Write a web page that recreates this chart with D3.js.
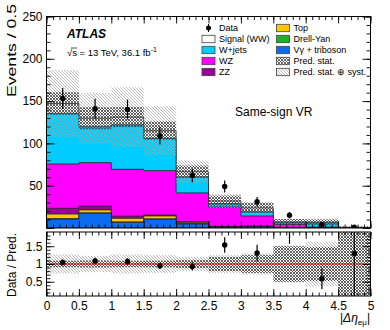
<!DOCTYPE html>
<html><head><meta charset="utf-8">
<script src="https://cdn.jsdelivr.net/npm/d3@7"></script>
<style>
body{margin:0;background:#fff;}
svg{display:block;font-family:"Liberation Sans",Arial,Helvetica,sans-serif;}
</style></head>
<body><svg id="c" width="390" height="330"></svg>
<script>
// ---- data ----
const binEdges = [0,0.5,1,1.5,2,2.5,3,3.5,4,4.5,5];
const vgammaTri = [10.3,17.4,6.7,10.3,4.7,1.0,1.5,0.3,0.2,0.0];
const drellYan  = [0.8,0.5,0.5,0.5,0.8,0.3,0.2,0.0,0.0,0.0];
const topQ      = [5.4,3.4,4.2,3.4,1.2,0.3,0.2,0.0,0.0,0.0];
const zz        = [6.8,4.7,2.6,1.2,0.8,0.3,0.3,0.2,0.0,0.0];
const wz        = [52.3,51.2,55.4,52.4,34,23,12,3.8,1.0,0.2];
const wjets     = [60,42.5,52.6,38.2,19,4,5,2,4.8,0.5];
const signalWW  = [11.5,10,9,9,6,3,4.5,0.8,0.8,0.07];
const dataVals  = [153,141,140,109,62,49,31,15,4,1];
const statRel   = [0.09,0.10,0.09,0.095,0.11,0.2,0.25,0.5,0.48,1.5];
const totRel    = [0.27,0.23,0.27,0.25,0.2,0.26,0.3,0.52,0.63,1.5];
const mainYTicks = [0,50,100,150,200,250];
const ratioYTicks = [0.5,1,1.5];
const xTicks = [0,0.5,1,1.5,2,2.5,3,3.5,4,4.5,5];

const comps = [
  {name:"Vγ + triboson", vals:vgammaTri, color:"#0a6cf0"},
  {name:"Drell-Yan", vals:drellYan, color:"#1db31d"},
  {name:"Top", vals:topQ, color:"#fdc800"},
  {name:"ZZ", vals:zz, color:"#990099"},
  {name:"WZ", vals:wz, color:"#ff00ff"},
  {name:"W+jets", vals:wjets, color:"#00ccff"},
  {name:"Signal (WW)", vals:signalWW, color:"#ffffff"}
];

const svg = d3.select("#c");
const L=46.5, R=370.5, T=16.5, B=228, RT=232, RB=296;
const x = d3.scaleLinear().domain([0,5]).range([L,R]);
const y = d3.scaleLinear().domain([0,250]).range([B,T]);
const yr = d3.scaleLinear().domain([0.1,1.9]).range([RB,RT]);

const defs = svg.append("defs");
const ps = defs.append("pattern").attr("id","stat").attr("patternUnits","userSpaceOnUse").attr("width",3).attr("height",3);
ps.append("path").attr("d","M0,0L3,3M3,0L0,3M-1,2L1,4M2,-1L4,1").attr("stroke","#3a3a3a").attr("stroke-width",0.75);
const py = defs.append("pattern").attr("id","syst").attr("patternUnits","userSpaceOnUse").attr("width",3).attr("height",3);
py.append("path").attr("d","M0,0L3,3M-1,2L1,4M2,-1L4,1").attr("stroke","#a8a8a8").attr("stroke-width",0.8);
defs.append("clipPath").attr("id","cm").append("rect").attr("x",L).attr("y",T).attr("width",R-L).attr("height",B-T);
defs.append("clipPath").attr("id","cr").append("rect").attr("x",L).attr("y",RT).attr("width",R-L).attr("height",RB-RT);

const nb = dataVals.length;
// cumulative sums
const cum = [];
let acc = new Array(nb).fill(0);
comps.forEach(c=>{acc = acc.map((a,i)=>a+c.vals[i]); cum.push(acc.slice());});
const total = cum[cum.length-1];

const gm = svg.append("g").attr("clip-path","url(#cm)");
function stepPath(vals){
  let p = `M${x(0)},${y(0)}`;
  for(let i=0;i<nb;i++){p+=`L${x(binEdges[i])},${y(vals[i])}L${x(binEdges[i+1])},${y(vals[i])}`;}
  p+=`L${x(5)},${y(0)}Z`;
  return p;
}
for(let k=comps.length-1;k>=0;k--){
  gm.append("path").attr("d",stepPath(cum[k])).attr("fill",comps[k].color).attr("stroke","#222").attr("stroke-width",0.8);
}
// uncertainty bands
for(let i=0;i<nb;i++){
  const t=total[i], x0=x(binEdges[i]), w=x(binEdges[i+1])-x0;
  gm.append("rect").attr("x",x0).attr("width",w).attr("y",y(t*(1+totRel[i]))).attr("height",y(t*(1-totRel[i]))-y(t*(1+totRel[i]))).attr("fill","url(#syst)");
}
for(let i=0;i<nb;i++){
  const t=total[i], x0=x(binEdges[i]), w=x(binEdges[i+1])-x0;
  gm.append("rect").attr("x",x0).attr("width",w).attr("y",y(t*(1+statRel[i]))).attr("height",y(t*(1-statRel[i]))-y(t*(1+statRel[i]))).attr("fill","url(#stat)");
}
// data
for(let i=0;i<nb;i++){
  const cx=x((binEdges[i]+binEdges[i+1])/2), v=dataVals[i], e=Math.sqrt(v);
  gm.append("line").attr("x1",cx).attr("x2",cx).attr("y1",y(v-e)).attr("y2",y(v+e)).attr("stroke","#000").attr("stroke-width",1.2);
  gm.append("circle").attr("cx",cx).attr("cy",y(v)).attr("r",2.7).attr("fill","#000");
}

// ratio panel
const gr = svg.append("g").attr("clip-path","url(#cr)");
for(let i=0;i<nb;i++){
  const x0=x(binEdges[i]), w=x(binEdges[i+1])-x0;
  gr.append("rect").attr("x",x0).attr("width",w).attr("y",yr(1+totRel[i])).attr("height",yr(1-totRel[i])-yr(1+totRel[i])).attr("fill","url(#syst)");
}
for(let i=0;i<nb;i++){
  const x0=x(binEdges[i]), w=x(binEdges[i+1])-x0;
  gr.append("rect").attr("x",x0).attr("width",w).attr("y",yr(1+statRel[i])).attr("height",yr(1-statRel[i])-yr(1+statRel[i])).attr("fill","url(#stat)");
}
gr.append("line").attr("x1",L).attr("x2",R).attr("y1",yr(1)).attr("y2",yr(1)).attr("stroke","#ff0000").attr("stroke-width",1);
for(let i=0;i<nb;i++){
  const cx=x((binEdges[i]+binEdges[i+1])/2), r=dataVals[i]/total[i], e=Math.sqrt(dataVals[i])/total[i];
  gr.append("line").attr("x1",cx).attr("x2",cx).attr("y1",yr(r-e)).attr("y2",yr(r+e)).attr("stroke","#000").attr("stroke-width",1.2);
  gr.append("circle").attr("cx",cx).attr("cy",yr(r)).attr("r",2.7).attr("fill","#000");
}

// axes
function ax(gen, tx, ty, vals, size, fmt){
  const a = gen.tickValues(vals).tickSizeInner(-size).tickSizeOuter(0).tickPadding(4);
  if(fmt===null) a.tickFormat(""); else if(fmt) a.tickFormat(fmt);
  const g = svg.append("g").attr("transform",`translate(${tx},${ty})`).call(a);
  g.select(".domain").remove();
  g.selectAll("line").attr("stroke","#000").attr("stroke-width",0.9);
  g.selectAll("text").attr("font-size",12).attr("fill","#000").attr("font-family","'Liberation Sans',Arial,sans-serif");
  return g;
}
const minorX = d3.range(0,5.001,0.1).map(v=>+v.toFixed(2));
const minorMain = d3.range(0,250.1,10);
const minorR = d3.range(0.2,1.85,0.1).map(v=>+v.toFixed(2));
// main
ax(d3.axisLeft(y),L,0,mainYTicks,8,d=>d===0?"":d);
ax(d3.axisLeft(y),L,0,minorMain,4,null);
ax(d3.axisRight(y),R,0,mainYTicks,8,null);
ax(d3.axisRight(y),R,0,minorMain,4,null);
ax(d3.axisBottom(x),0,B,xTicks,7,null);
ax(d3.axisBottom(x),0,B,minorX,3.5,null);
ax(d3.axisTop(x),0,T,xTicks,7,null);
ax(d3.axisTop(x),0,T,minorX,3.5,null);
// ratio
ax(d3.axisLeft(yr),L,0,ratioYTicks,8,d3.format("~g"));
ax(d3.axisLeft(yr),L,0,minorR,4,null);
ax(d3.axisRight(yr),R,0,ratioYTicks,8,null);
ax(d3.axisRight(yr),R,0,minorR,4,null);
ax(d3.axisBottom(x),0,RB,xTicks,7,d3.format("~g")).selectAll("text").attr("dy","0.71em").attr("y",5);
ax(d3.axisBottom(x),0,RB,minorX,3.5,null);
ax(d3.axisTop(x),0,RT,xTicks,7,null);
ax(d3.axisTop(x),0,RT,minorX,3.5,null);

svg.append("rect").attr("x",L).attr("y",T).attr("width",R-L).attr("height",B-T).attr("fill","none").attr("stroke","#000").attr("stroke-width",1);
svg.append("rect").attr("x",L).attr("y",RT).attr("width",R-L).attr("height",RB-RT).attr("fill","none").attr("stroke","#000").attr("stroke-width",1);

// titles
svg.append("text").attr("transform","translate(16,97) rotate(-90)").attr("font-size",13).attr("text-anchor","start")
  .attr("textLength",93).attr("lengthAdjust","spacingAndGlyphs").text("Events / 0.5");
svg.append("text").attr("transform","translate(16,297) rotate(-90)").attr("font-size",12).attr("text-anchor","start").text("Data / Pred.");
const xt = svg.append("text").attr("x",370).attr("y",322).attr("text-anchor","end").attr("font-size",12);
xt.append("tspan").text("|");
xt.append("tspan").attr("font-style","italic").text("Δη");
xt.append("tspan").attr("font-size",8).attr("dy",3).text("eμ");
xt.append("tspan").attr("dy",-3).text("|");

svg.append("text").attr("x",67).attr("y",38).attr("font-size",12).attr("font-weight","bold").attr("font-style","italic").text("ATLAS");
const en = svg.append("text").attr("x",67).attr("y",56).attr("font-size",9.5);
en.append("tspan").text("√s = 13 TeV, 36.1 fb");
en.append("tspan").attr("font-size",7).attr("dy",-4).text("-1");
svg.append("line").attr("x1",71).attr("x2",77).attr("y1",48).attr("y2",48).attr("stroke","#000").attr("stroke-width",0.7);
svg.append("text").attr("x",235).attr("y",116).attr("font-size",12).text("Same-sign VR");

// legend
const leg1 = [
  {t:"Data", type:"data"},
  {t:"Signal (WW)", fill:"#ffffff"},
  {t:"W+jets", fill:"#00ccff"},
  {t:"WZ", fill:"#ff00ff"},
  {t:"ZZ", fill:"#990099"}
];
const leg2 = [
  {t:"Top", fill:"#fdc800"},
  {t:"Drell-Yan", fill:"#1db31d"},
  {t:"Vγ + triboson", fill:"#0a6cf0"},
  {t:"Pred. stat.", fill:"url(#stat)"},
  {t:"Pred. stat. ⊕ syst.", fill:"url(#syst)"}
];
function legend(items, bx){
  items.forEach((d,i)=>{
    const cy = 28 + i*11;
    if(d.type==="data"){
      svg.append("line").attr("x1",bx+6.5).attr("x2",bx+6.5).attr("y1",cy-4).attr("y2",cy+4).attr("stroke","#000");
      svg.append("circle").attr("cx",bx+6.5).attr("cy",cy).attr("r",2.5).attr("fill","#000");
    } else {
      svg.append("rect").attr("x",bx).attr("y",cy-3.7).attr("width",13).attr("height",7.4).attr("fill",d.fill).attr("stroke","#444").attr("stroke-width",0.8);
    }
    svg.append("text").attr("x",bx+17).attr("y",cy+3.3).attr("font-size",9).text(d.t);
  });
}
legend(leg1,202);
legend(leg2,276.5);
</script></body></html>
